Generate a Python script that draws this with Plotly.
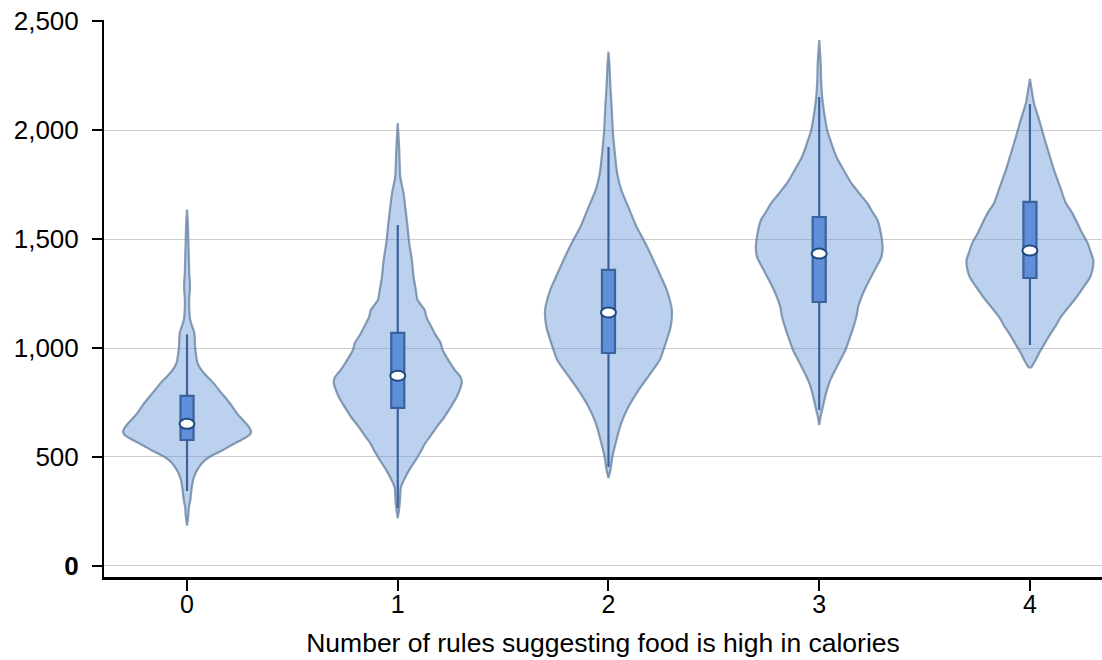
import plotly.graph_objects as go

# ---- data ----
categories = [0, 1, 2, 3, 4]
tick_labels = ["0", "1", "2", "3", "4"]

# violin density profiles (value levels and relative half-widths, max ~1)
vals0 = [185, 230, 270, 300, 350, 400, 430, 455, 480, 500, 530, 555, 580, 600, 615, 640, 670, 700, 750, 800,
         840, 880, 910, 935, 970, 1010, 1050, 1075, 1100, 1130, 1180, 1230, 1270, 1300, 1340, 1400, 1450, 1500, 1560, 1635]
dens0 = [0, .02, .03, .05, .07, .10, .14, .19, .26, .35, .55, .70, .86, .97, 1.0, .96, .87, .78, .66, .52,
         .41, .28, .20, .16, .14, .125, .12, .11, .08, .05, .035, .035, .045, .045, .035, .03, .025, .02, .015, 0]

vals1 = [220, 257, 300, 362, 408, 450, 486, 525, 564, 600, 638, 680, 716, 745, 775, 810, 840, 867, 900, 940,
         991, 1023, 1060, 1100, 1140, 1174, 1220, 1270, 1320, 1404, 1480, 1564, 1640, 1711, 1784, 1850, 1930, 2032]
dens1 = [0, .02, .035, .05, .12, .2, .28, .36, .43, .52, .61, .72, .80, .86, .92, .97, 1.0, .98, .89, .80,
         .70, .67, .59, .52, .45, .42, .31, .28, .25, .22, .18, .15, .12, .09, .04, .03, .02, 0]

vals2 = [404, 440, 500, 578, 656, 729, 807, 885, 945, 1037, 1096, 1174, 1266, 1320, 1372, 1430, 1495, 1555, 1600,
         1647, 1725, 1803, 1922, 2000, 2106, 2200, 2300, 2358]
dens2 = [0, .03, .06, .125, .2, .31, .47, .66, .80, .91, .97, .99, .91, .83, .75, .66, .55, .44, .375,
         .31, .2, .135, .09, .067, .05, .03, .015, 0]

vals3 = [647, 690, 716, 760, 807, 850, 899, 945, 991, 1040, 1083, 1142, 1190, 1234, 1280, 1326, 1370, 1417, 1460,
         1495, 1545, 1587, 1625, 1665, 1710, 1757, 1820, 1876, 1940, 2000, 2075, 2151, 2230, 2307, 2413]
dens3 = [0, .025, .047, .08, .12, .17, .25, .33, .41, .47, .52, .58, .61, .66, .73, .81, .89, .97, .99,
         .98, .95, .91, .83, .75, .625, .5, .375, .27, .19, .125, .08, .047, .03, .023, 0]

vals4 = [912, 920, 945, 975, 1005, 1040, 1069, 1105, 1142, 1190, 1234, 1280, 1326, 1365, 1404, 1440, 1482, 1530,
         1573, 1620, 1665, 1740, 1817, 1890, 1968, 2050, 2124, 2180, 2234]
dens4 = [.02, .04, .09, .14, .2, .27, .33, .41, .48, .61, .73, .84, .94, .98, .99, .95, .9, .81,
         .74, .66, .56, .47, .375, .3, .22, .14, .0625, .03, 0]

violin_vals = [vals0, vals1, vals2, vals3, vals4]
violin_dens = [dens0, dens1, dens2, dens3, dens4]

# box statistics
q1 = [578, 725, 977, 1211, 1321]
median = [652, 873, 1163, 1433, 1447]
q3 = [780, 1069, 1358, 1601, 1670]
lower = [344, 266, 454, 716, 1014]
upper = [1062, 1564, 1922, 2151, 2119]

y_tickvals = [0, 500, 1000, 1500, 2000, 2500]
y_ticktext = ["<b>0</b>", "500", "1,000", "1,500", "2,000", "2,500"]

# ---- style ----
HALF_W = 0.304
FONT = "Liberation Sans, Arial, Helvetica, sans-serif"

fig = go.Figure()

for c, vv, dd in zip(categories, violin_vals, violin_dens):
    xs = [c + HALF_W * d for d in dd] + [c - HALF_W * d for d in reversed(dd)]
    ys = list(vv) + list(reversed(vv))
    xs.append(xs[0])
    ys.append(ys[0])
    fig.add_trace(go.Scatter(
        x=xs, y=ys, mode="lines", fill="toself",
        fillcolor="rgba(100,148,214,0.43)",
        line=dict(color="rgba(90,118,150,0.7)", width=2.2, shape="spline", smoothing=0.6),
        hoverinfo="skip", showlegend=False,
    ))

fig.add_trace(go.Box(
    x=categories, q1=q1, median=median, q3=q3,
    lowerfence=lower, upperfence=upper,
    width=0.062, whiskerwidth=0,
    fillcolor="#5B8BDB",
    line=dict(color="#1E3C72", width=2.2),
    showlegend=False, hoverinfo="skip",
))

for c, m in zip(categories, median):
    fig.add_shape(
        type="circle", xref="x", yref="y",
        xsizemode="pixel", ysizemode="pixel",
        xanchor=c, yanchor=m,
        x0=-7.5, x1=7.5, y0=-5, y1=5,
        fillcolor="white", line=dict(color="#1F4A80", width=2),
        layer="above",
    )

fig.update_layout(
    width=1102, height=660,
    margin=dict(l=104, r=0, t=20, b=83),
    plot_bgcolor="white", paper_bgcolor="white",
    font=dict(family=FONT, color="black", size=24),
    showlegend=False,
)

fig.update_xaxes(
    range=[-0.394, 4.342],
    tickvals=categories, ticktext=tick_labels,
    showgrid=False, zeroline=False,
    showline=True, linecolor="black", linewidth=3,
    ticks="outside", ticklen=11, tickwidth=2, tickcolor="black",
    tickfont=dict(size=25),
    ticklabelstandoff=-8,
    title=dict(text="Number of rules suggesting food is high in calories",
               font=dict(size=26.5), standoff=17),
)

fig.update_yaxes(
    range=[-50.5, 2504.6],
    tickvals=y_tickvals, ticktext=y_ticktext,
    showgrid=True, gridcolor="rgb(205,205,205)", gridwidth=1,
    zeroline=False,
    showline=True, linecolor="black", linewidth=2,
    ticks="outside", ticklen=10, tickwidth=2, tickcolor="black",
    tickfont=dict(size=26),
    ticklabelstandoff=8,
)

fig.write_html(
    "out.html",
    config={"displayModeBar": False},
    post_script="document.body.style.margin='0';document.body.style.overflow='hidden';",
)
